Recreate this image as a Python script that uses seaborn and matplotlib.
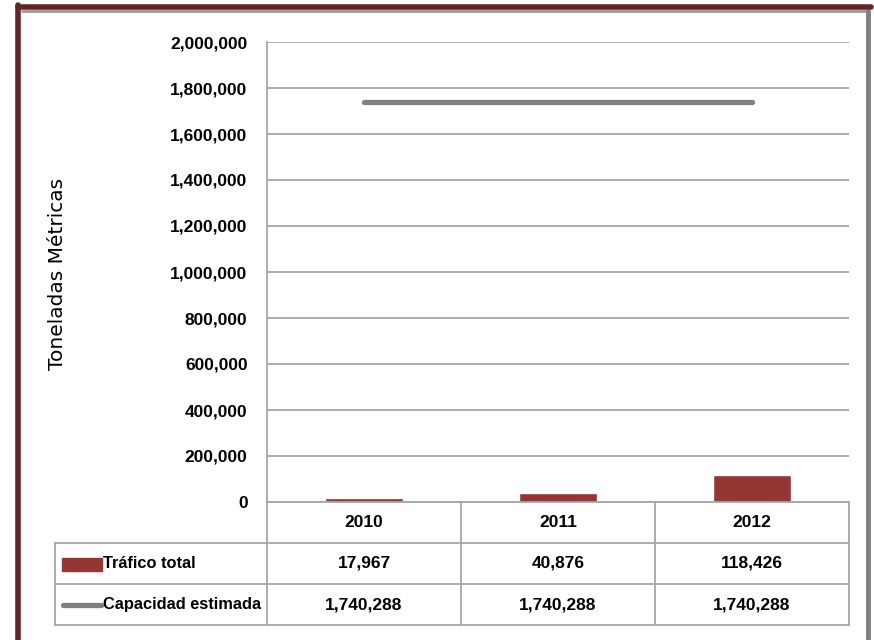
import matplotlib
matplotlib.use("Agg")
import matplotlib.pyplot as plt
from matplotlib.lines import Line2D
from matplotlib.patches import Rectangle
import numpy as np
import pandas as pd
import seaborn as sns

# --- data -------------------------------------------------------------
years = ["2010", "2011", "2012"]
trafico_total = [17967, 40876, 118426]
capacidad_estimada = [1740288, 1740288, 1740288]
series_names = ["Tráfico total", "Capacidad estimada"]
y_ticks = [0, 200000, 400000, 600000, 800000, 1000000,
           1200000, 1400000, 1600000, 1800000, 2000000]
y_label = "Toneladas Métricas"

# --- style ------------------------------------------------------------
BAR_COLOR = "#943634"
LINE_COLOR = "#808080"
GRID_COLOR = "#a6a6a6"
FRAME_RED = "#632423"
FONT = ["Liberation Sans", "DejaVu Sans"]

sns.set_theme(style="white")
plt.rcParams["font.family"] = FONT

W, H = 874, 640
fig = plt.figure(figsize=(W / 100, H / 100), dpi=100)
fig.patch.set_facecolor("white")

# plot area in pixel terms
L, R, T, B = 267, 849, 42, 502
ax = fig.add_axes([L / W, 1 - B / H, (R - L) / W, (B - T) / H])

df = pd.DataFrame({"year": years, "trafico": trafico_total,
                   "capacidad": capacidad_estimada})
df["pos"] = np.arange(len(years))

sns.barplot(data=df, x="year", y="trafico", color=BAR_COLOR,
            width=0.4, saturation=1, ax=ax, zorder=3)
sns.lineplot(x=df["pos"], y=df["capacidad"], color=LINE_COLOR,
             linewidth=3.8, solid_capstyle="round", ax=ax, zorder=4)

ax.set_xlim(-0.5, len(years) - 0.5)
ax.set_ylim(0, 2000000)
ax.set_yticks(y_ticks)
ax.set_yticklabels([f"{v:,}" for v in y_ticks], fontsize=12.5,
                   fontweight="bold", fontfamily=FONT, color="black")
ax.set_xticks([])
ax.set_xlabel("")
ax.set_ylabel("")
ax.tick_params(axis="y", length=0, pad=14)
ax.yaxis.grid(True, color=GRID_COLOR, linewidth=1.3)
ax.set_axisbelow(True)
for side in ["top", "right", "bottom"]:
    ax.spines[side].set_visible(False)
ax.spines["left"].set_color(GRID_COLOR)
ax.spines["left"].set_linewidth(1.3)

# --- overlay in pixel coordinates for the data table and frame -------
ov = fig.add_axes([0, 0, 1, 1], facecolor="none")
ov.set_xlim(0, W)
ov.set_ylim(H, 0)
ov.axis("off")

col_w = (R - L) / len(years)
col_edges = [L + i * col_w for i in range(len(years) + 1)]
col_centers = [L + (i + 0.5) * col_w for i in range(len(years))]
TL = 55
rows_y = [502, 543, 584, 625]

tc = GRID_COLOR
lw = 1.3
# vertical lines
ov.add_line(Line2D([TL, TL], [rows_y[1], rows_y[3]], color=tc, lw=lw))
for x in col_edges:
    ov.add_line(Line2D([x, x], [rows_y[0], rows_y[3]], color=tc, lw=lw))
# horizontal lines
ov.add_line(Line2D([L, R], [rows_y[0], rows_y[0]], color=tc, lw=lw))
for y in rows_y[1:]:
    ov.add_line(Line2D([TL, R], [y, y], color=tc, lw=lw))

txt_kw = dict(fontsize=12.5, fontweight="bold", fontfamily=FONT,
              color="black", va="center")
for cx, yr in zip(col_centers, years):
    ov.text(cx, (rows_y[0] + rows_y[1]) / 2, yr, ha="center", **txt_kw)
for row, vals in enumerate([trafico_total, capacidad_estimada]):
    yc = (rows_y[row + 1] + rows_y[row + 2]) / 2
    for cx, v in zip(col_centers, vals):
        ov.text(cx, yc, f"{v:,}", ha="center", **txt_kw)

# legend keys inside the row-label cells
yc1 = (rows_y[1] + rows_y[2]) / 2
yc2 = (rows_y[2] + rows_y[3]) / 2
ov.add_patch(Rectangle((62, yc1 - 6), 40, 13, color=BAR_COLOR))
ov.add_line(Line2D([63, 101], [yc2, yc2], color=LINE_COLOR, lw=3.8,
                   solid_capstyle="round"))
lab_kw = dict(txt_kw, fontsize=11.8)
ov.text(103, yc1, series_names[0], ha="left", **lab_kw)
ov.text(103, yc2, series_names[1], ha="left", **lab_kw)

# y-axis title
ov.text(58, 274, y_label, rotation=90, ha="center", va="center",
        fontsize=14.5, fontfamily="DejaVu Sans", color="black")

# outer frame: dark red top/left, grey shadow inside and grey right edge
ov.add_line(Line2D([22, 868], [11, 11], color="#9a9a9a", lw=2))
ov.add_line(Line2D([868, 868], [11, H], color="#808080", lw=3.5))
ov.add_line(Line2D([18, 871], [7, 7], color=FRAME_RED, lw=4))
ov.add_line(Line2D([18, 18], [5, H], color=FRAME_RED, lw=4))

fig.savefig("out.png", dpi=100, facecolor="white")
